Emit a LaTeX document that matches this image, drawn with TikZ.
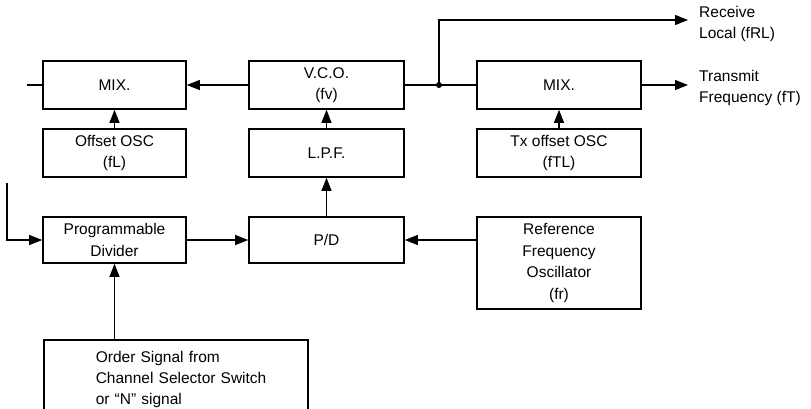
\documentclass[tikz,border=0pt]{standalone}
\usepackage{fontspec}
\setmainfont{Liberation Sans}
\usetikzlibrary{arrows.meta}
\tikzset{
  blk/.style={draw, line width=1.6pt, inner sep=0pt, align=center,
    font=\fontsize{15.5}{21.5}\selectfont},
  lbl/.style={inner sep=0pt, align=left, anchor=west,
    font=\fontsize{15.5}{21.5}\selectfont},
  wire/.style={line width=1.1pt},
  arr/.style={wire, -{Triangle[length=13pt,width=10pt]}},
  jdot/.style={circle, fill, inner sep=0pt, minimum size=6pt}
}
\begin{document}
\begin{tikzpicture}[x=1pt,y=1pt]
\useasboundingbox (0,0) rectangle (811,-408);
\clip (0,0) rectangle (811,-408);
% top row
\node[blk, minimum width=143pt, minimum height=48pt] (mixL) at (114.5,-85) {MIX.};
\node[blk, minimum width=155pt, minimum height=48pt] (vco) at (326.5,-85) {V.C.O.\\(fv)};
\node[blk, minimum width=164pt, minimum height=48pt] (mixR) at (559,-85) {MIX.};
% second row
\node[blk, minimum width=143pt, minimum height=48pt] (offL) at (114.5,-153) {Offset OSC\\(fL)};
\node[blk, minimum width=155pt, minimum height=48pt] (lpf) at (326.5,-153) {L.P.F.};
\node[blk, minimum width=164pt, minimum height=48pt] (txo) at (559,-153) {Tx offset OSC\\(fTL)};
% third row
\node[blk, minimum width=143pt, minimum height=46pt] (div) at (114.5,-240) {Programmable\\Divider};
\node[blk, minimum width=155pt, minimum height=46pt] (pd) at (326.5,-240) {P/D};
\node[blk, minimum width=164pt, minimum height=92pt] (ref) at (559,-263) {Reference\\Frequency\\Oscillator\\(fr)};
% order box (its bottom lies below the picture's edge)
\node[blk, anchor=north west, inner xsep=0pt, inner ysep=11pt, text width=264pt, align=left,
  font=\fontsize{15.5}{21}\selectfont] (order) at (43,-339)
  {\hspace*{52pt}Order Signal from\\\hspace*{52pt}Channel Selector Switch\\\hspace*{52pt}or ``N'' signal};
% labels
\node[lbl] (rxl) at (699,-24) {Receive\\Local (fRL)};
\node[lbl] (txl) at (699,-88) {Transmit\\Frequency (fT)};
% coordinates
\coordinate (lstub) at (27,-85);
\coordinate (jn) at (439,-85);
\coordinate (rtop) at (439,-20);
\coordinate (rxtip) at (688,-20);
\coordinate (txtip) at (688,-85);
\coordinate (inl) at (7,-183);
% connectors
\draw[wire] (lstub) -- (mixL.west);
\draw[arr] (vco.west) -- (mixL.east);
\draw[arr] (offL.north) -- (mixL.south);
\draw[arr] (lpf.north) -- (vco.south);
\draw[arr] (pd.north) -- (lpf.south);
\draw[wire] (vco.east) -- (mixR.west);
\node[jdot] (jd) at (jn) {};
\draw[arr] (jn) -- (rtop) -- (rxtip);
\draw[arr] (mixR.east) -- (txtip);
\draw[arr] (txo.north) -- (mixR.south);
\draw[arr] (pd.east -| ref.west) -- (pd.east);
\draw[arr] (div.east) -- (pd.west);
\draw[arr] (inl) |- (div.west);
\draw[arr] (div.south |- order.north) -- (div.south);
\end{tikzpicture}
\end{document}
